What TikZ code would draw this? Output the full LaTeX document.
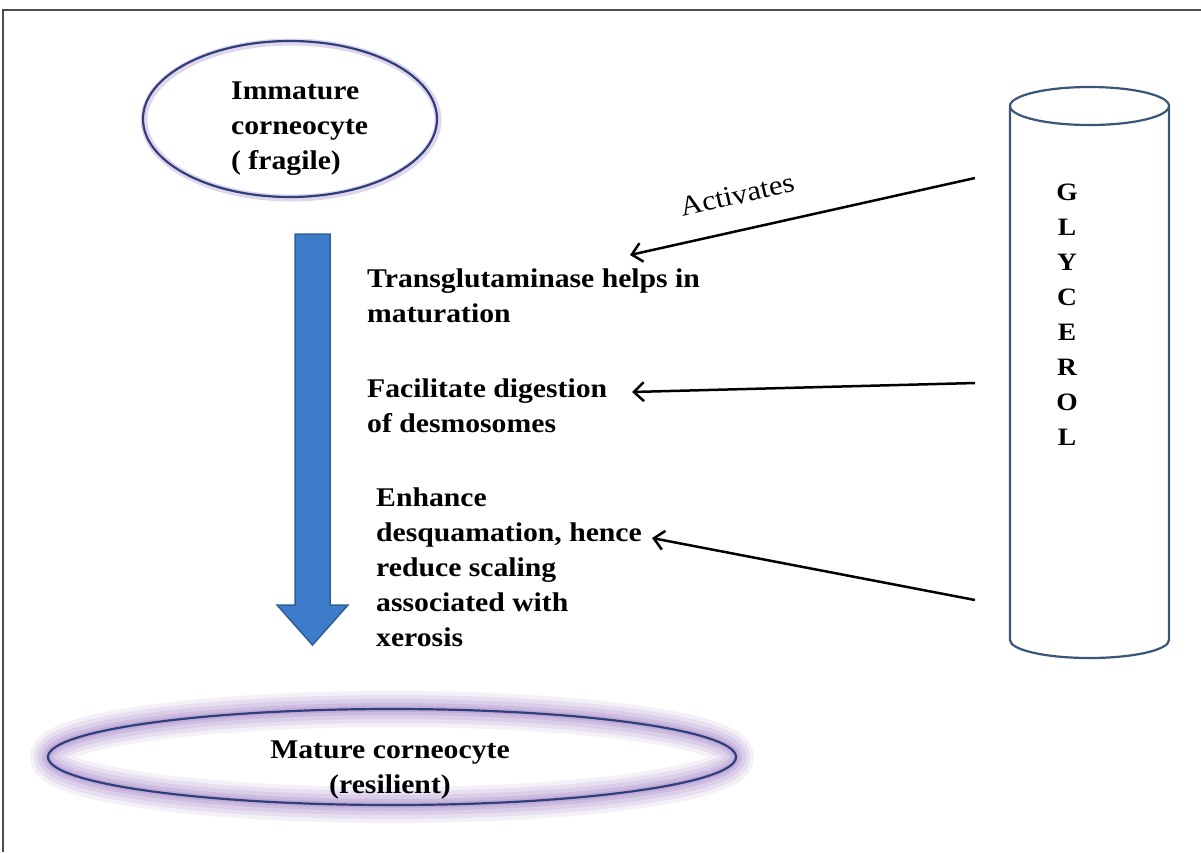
\documentclass[tikz,border=0pt]{standalone}
\usepackage{fontspec}
\setmainfont{Liberation Serif}[FakeStretch=1.1]
\usetikzlibrary{shapes.geometric,arrows.meta}
\definecolor{navy}{HTML}{2E3F7C}
\definecolor{cylc}{HTML}{3B5577}
\definecolor{arrowblue}{HTML}{3D7CC9}
\definecolor{arrowedge}{HTML}{2F5E98}
\definecolor{glowc}{HTML}{A98BCB}
\begin{document}
\begin{tikzpicture}[x=1pt,y=-1pt,
  lbl/.style={font=\bfseries\fontsize{27}{35}\selectfont, align=left, inner sep=0pt, anchor=north west},
  conn/.style={line width=2.5pt, black, -{Straight Barb[length=10pt,width=19pt,line width=2.5pt]}},
  cyl/.style={draw=cylc, line width=2.2pt},
  cell/.style={ellipse, draw=navy, line width=2.2pt, inner sep=0pt},
]
\useasboundingbox (0,0) rectangle (1201,852);
\fill[white] (0,0) rectangle (1201,852);
\draw[line width=2pt, black!70] (1201,10) -- (3,10) -- (3,852);

% immature corneocyte
\draw[glowc, line width=7pt, opacity=0.35] (291,120) ellipse [x radius=147, y radius=78];
\node[cell, minimum width=294pt, minimum height=156pt] (imm) at (290,119) {};
\node[lbl] (immtext) at (231,82) {Immature\\corneocyte\\( fragile)};

% mature corneocyte with glow
\coordinate (matc) at (392,757);
\foreach \w/\o in {36/0.12, 28/0.16, 20/0.2, 12/0.26, 6/0.32} {
  \draw[glowc, line width=\w pt, opacity=\o] (matc) ellipse [x radius=344, y radius=48];
}
\node[cell, minimum width=688pt, minimum height=96pt] (mat) at (matc) {};
\node[lbl, align=center, anchor=north] (mattext) at (390,741) {Mature corneocyte\\(resilient)};

% big blue arrow
\draw[fill=arrowblue, draw=arrowedge, line width=1.5pt, line join=miter]
  (295,234) -- (330,234) -- (330,605) -- (348,605) -- (312.5,645) -- (277,605) -- (295,605) -- cycle;

% glycerol cylinder
\draw[cyl, fill=white] (1010,106) -- (1010,640) arc[start angle=180, end angle=0, x radius=79.5, y radius=18] -- (1169,106);
\draw[cyl] (1089.5,106) ellipse [x radius=79.5, y radius=19];
\node[font=\bfseries\fontsize{25}{35}\selectfont, align=center, inner sep=0pt] (gly) at (1067,315) {G\\L\\Y\\C\\E\\R\\O\\L};

% effect texts
\node[lbl] (t1) at (367,269) {Transglutaminase helps in\\maturation};
\node[lbl] (t2) at (367,379) {Facilitate digestion\\of desmosomes};
\node[lbl] (t3) at (376,488) {Enhance\\desquamation, hence\\reduce scaling\\associated with\\xerosis};

% connectors
\coordinate (s1) at (975,178);
\coordinate (s2) at (975,383);
\coordinate (s3) at (975,600);
\coordinate (e1) at (630,255);
\coordinate (e2) at (632,392);
\coordinate (e3) at (652,538);
\draw[conn] (s1) -- (e1);
\draw[conn] (s2) -- (e2);
\draw[conn] (s3) -- (e3);
\node[font=\fontsize{28}{32}\selectfont, rotate=13, inner sep=0pt] (act) at (737,195) {Activates};
\end{tikzpicture}
\end{document}
